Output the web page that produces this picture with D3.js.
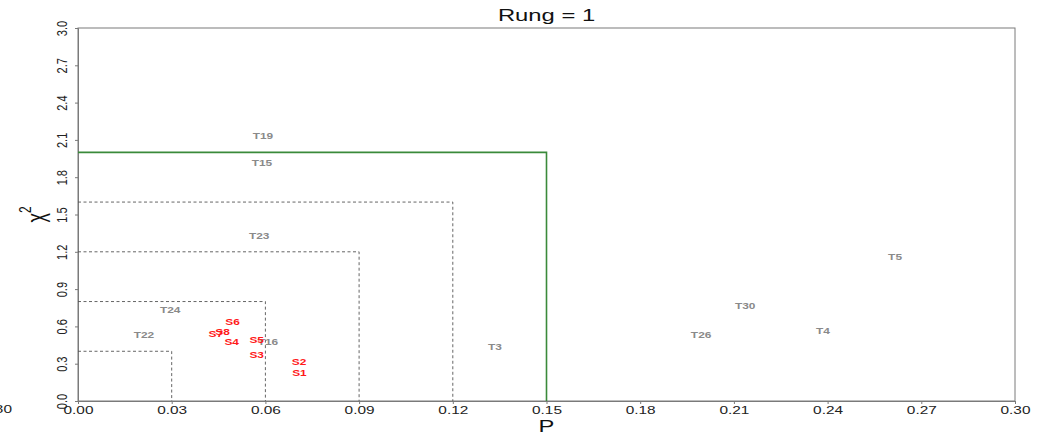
<!DOCTYPE html>
<html>
<head>
<meta charset="utf-8">
<script src="https://cdn.jsdelivr.net/npm/d3@7"></script>
<style>
  html, body { margin: 0; padding: 0; background: #fff; }
  svg { display: block; font-family: "Liberation Sans", Arial, sans-serif; }
</style>
</head>
<body>
<svg id="chart" width="1041" height="435"></svg>
<script>
// Threshold boxes (P cut-off, chi-square cut-off)
const boxP    = [0.03, 0.06, 0.09, 0.12];
const boxChi  = [0.4, 0.8, 1.2, 1.6];
const mainBoxP = 0.15;
const mainBoxChi = 2.0;

// Labelled points: T-series (grey) and S-series (red)
const tNames = ["T19", "T15", "T23", "T24", "T22", "T16", "T3", "T26", "T30", "T4", "T5"];
const tP     = [0.0592, 0.0589, 0.0580, 0.0295, 0.0211, 0.0608, 0.1335, 0.1995, 0.2136, 0.2385, 0.2616];
const tChi   = [2.13, 1.91, 1.33, 0.73, 0.53, 0.475, 0.434, 0.53, 0.765, 0.563, 1.16];

const sNames = ["S6", "S8", "S7", "S4", "S5", "S3", "S2", "S1"];
const sP     = [0.0495, 0.0463, 0.0441, 0.0492, 0.0572, 0.0572, 0.0708, 0.0709];
const sChi   = [0.634, 0.555, 0.541, 0.475, 0.491, 0.367, 0.314, 0.228];

const xTicks = [0, 0.03, 0.06, 0.09, 0.12, 0.15, 0.18, 0.21, 0.24, 0.27, 0.30];
const yTicks = [0, 0.3, 0.6, 0.9, 1.2, 1.5, 1.8, 2.1, 2.4, 2.7, 3.0];

const svg = d3.select("#chart");
const plotL = 78, plotR = 1015, plotT = 28, plotB = 401;
const wide = 1.4;   // horizontal widening applied to all glyphs

const x = d3.scaleLinear().domain([0, 0.30]).range([plotL, plotR]);
const y = d3.scaleLinear().domain([0, 3.0]).range([plotB, plotT]);

const axisColor = "#7a7a7a";
const fontFam = "'Liberation Sans', Arial, sans-serif";

// Frame
svg.append("rect")
  .attr("x", plotL).attr("y", plotT)
  .attr("width", plotR - plotL).attr("height", plotB - plotT)
  .attr("fill", "none").attr("stroke", axisColor).attr("stroke-width", 1);

// X axis
const gx = svg.append("g")
  .attr("transform", `translate(0,${plotB})`)
  .call(d3.axisBottom(x).tickValues(xTicks).tickFormat(d3.format(".2f")).tickSize(3));
gx.select(".domain").attr("stroke", axisColor);
gx.selectAll(".tick line").attr("stroke", axisColor);
gx.selectAll(".tick text")
  .attr("font-size", 11).attr("fill", "#222").attr("font-family", fontFam)
  .attr("y", null).attr("dy", null)
  .attr("dominant-baseline", "central")
  .attr("transform", `translate(0,9) scale(${wide},1)`);

// Y axis with rotated labels
const gy = svg.append("g")
  .attr("transform", `translate(${plotL},0)`)
  .call(d3.axisLeft(y).tickValues(yTicks).tickFormat(d3.format(".1f")).tickSize(3));
gy.select(".domain").attr("stroke", axisColor);
gy.selectAll(".tick line").attr("stroke", axisColor);
gy.selectAll(".tick text")
  .attr("font-size", 11).attr("fill", "#222").attr("font-family", fontFam)
  .attr("x", null).attr("dy", null)
  .attr("text-anchor", "middle")
  .attr("dominant-baseline", "central")
  .attr("transform", `translate(-16,0) rotate(-90) scale(1,${wide})`);

// Stray axis label at the far left edge
svg.append("text")
  .attr("transform", `translate(12,409) scale(${wide},1)`)
  .attr("text-anchor", "end").attr("dominant-baseline", "central")
  .attr("font-size", 11).attr("fill", "#222")
  .text("0.30");

// Dashed threshold boxes
const boxes = boxP.map((p, i) => ({ p, c: boxChi[i] }));
svg.append("g").selectAll("path")
  .data(boxes).join("path")
  .attr("d", d => `M${x(0)},${y(d.c)}H${x(d.p)}V${y(0)}`)
  .attr("fill", "none").attr("stroke", "#555")
  .attr("stroke-width", 0.9).attr("stroke-dasharray", "3,2.5");

// Main (green) threshold box
svg.append("path")
  .attr("d", `M${x(0)},${y(mainBoxChi)}H${x(mainBoxP)}V${y(0)}`)
  .attr("fill", "none").attr("stroke", "#3a8a3a").attr("stroke-width", 1.6);

// T labels
svg.append("g").selectAll("text")
  .data(tNames.map((n, i) => ({ n, p: tP[i], c: tChi[i] })))
  .join("text")
  .attr("transform", d => `translate(${x(d.p)},${y(d.c)}) scale(${wide},1)`)
  .attr("text-anchor", "middle").attr("dominant-baseline", "central")
  .attr("font-size", 8.5).attr("font-weight", "bold").attr("fill", "#8a8a8a")
  .text(d => d.n);

// S labels
svg.append("g").selectAll("text")
  .data(sNames.map((n, i) => ({ n, p: sP[i], c: sChi[i] })))
  .join("text")
  .attr("transform", d => `translate(${x(d.p)},${y(d.c)}) scale(${wide},1)`)
  .attr("text-anchor", "middle").attr("dominant-baseline", "central")
  .attr("font-size", 8.5).attr("font-weight", "bold").attr("fill", "#ff1a1a")
  .text(d => d.n);

// Title
svg.append("text")
  .attr("transform", `translate(${(plotL + plotR) / 2},15) scale(${wide},1)`)
  .attr("text-anchor", "middle").attr("dominant-baseline", "central")
  .attr("font-size", 17).attr("fill", "#111")
  .text("Rung = 1");

// Axis titles
svg.append("text")
  .attr("transform", `translate(${(plotL + plotR) / 2},426) scale(${wide},1)`)
  .attr("text-anchor", "middle").attr("dominant-baseline", "central")
  .attr("font-size", 17).attr("fill", "#111")
  .text("P");

const yl = svg.append("text")
  .attr("transform", `translate(36,${(plotT + plotB) / 2}) rotate(-90) scale(1,${wide})`)
  .attr("text-anchor", "middle").attr("dominant-baseline", "central")
  .attr("font-size", 18).attr("fill", "#111");
yl.append("tspan").text("χ");
yl.append("tspan").attr("font-size", 12).attr("dy", -8).text("2");
</script>
</body>
</html>
